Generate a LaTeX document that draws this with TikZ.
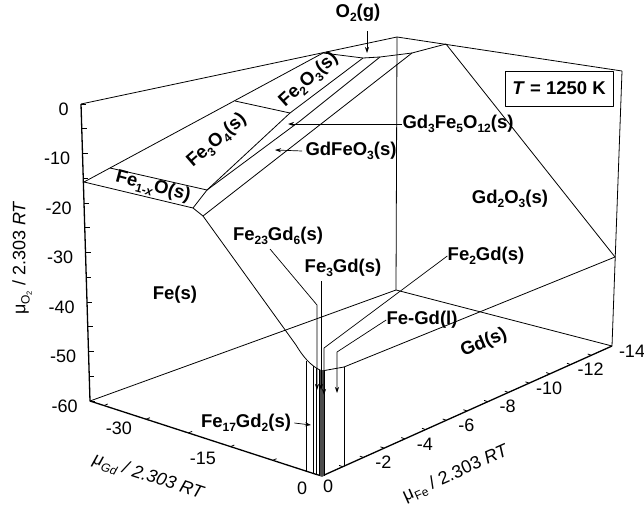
\documentclass[tikz,border=0pt]{standalone}
\usepackage{fontspec}
\setmainfont{Liberation Sans}
\usetikzlibrary{arrows.meta,calc}
\newcommand\sbx[1]{\raisebox{-0.45ex}{\fontsize{12}{12}\selectfont #1}}
\newcommand\ssbx[1]{\raisebox{-0.35ex}{\fontsize{7.5}{7.5}\selectfont #1}}
\begin{document}
\begin{tikzpicture}[x=1pt,y=-1pt, line width=0.8pt, line join=round,
  lab/.style={font=\fontsize{18.5}{19}\selectfont\bfseries, inner sep=0pt},
  ticklab/.style={font=\fontsize{18}{19}\selectfont, inner sep=0pt},
  axlab/.style={font=\fontsize{18}{19}\selectfont, inner sep=0pt},
  arr/.style={-{Stealth[length=6pt,width=4pt]}, line width=0.7pt},
  ax/.style={line width=1.3pt}]
\useasboundingbox (0,0) rectangle (644,506);

% ---------- box corners ----------
\coordinate (TL) at (81,104);
\coordinate (TB) at (397,37);
\coordinate (TR) at (622,71);
\coordinate (L) at (90,401);
\coordinate (B) at (396,290);
\coordinate (R) at (612,346);
\coordinate (Fg) at (315,474);
\coordinate (Ff) at (322,476);

\draw (TL) -- (TB) -- (TR);
\draw (TB) -- (B);
\draw (TR) -- (R);
\draw (L) -- (B) -- (R);
\draw[ax] (TL) -- (L) -- (Fg) -- (Ff) -- (R);

% ---------- ticks ----------
\foreach \k in {0,...,12} \draw ($(TL)!{\k/12}!(L)$) -- ++(5,0);
\foreach \v [count=\k from 0] in {0,-10,-20,-30,-40,-50,-60}
  \node[ticklab, anchor=east] (yl\k) at ($(TL)!{\k/6}!(L)+(-12,5)$) {\v};
\foreach \k in {1,...,5} \draw ($(Fg)!{\k*7.5/40}!(L)$) -- ++(3.7,-1.6);
\node[ticklab] (gl30) at (119,428) {-30};
\node[ticklab] (gl15) at (203,458) {-15};
\node[ticklab] (gl0) at (302,488) {0};
\foreach \k in {1,...,13} \draw ($(Ff)!{\k/14}!(R)$) -- ++(-3.6,-1.3);
\node[ticklab] (fl0) at (328,486) {0};
\foreach \v [count=\k] in {-2,-4,-6,-8,-10,-12,-14}
  \node[ticklab] (fl\k) at ($(Ff)!{\k/7}!(R)+(20,5)$) {\v};

% ---------- surface lines ----------
\coordinate (A1) at (84,182);
\coordinate (A2) at (323,53);
\coordinate (N1) at (110,168);
\coordinate (N2) at (235,101);
\coordinate (Q0) at (207,190);
\coordinate (P1) at (193,208);
\coordinate (P3) at (203,216);
\coordinate (M) at (290,113);
\coordinate (K) at (300,121);
\coordinate (C1) at (363,58);
\coordinate (C2) at (380,57);
\coordinate (C3) at (412,53);
\coordinate (C4) at (446,44);
\coordinate (G1) at (615,257);
\coordinate (G2) at (344,367);
\coordinate (G3) at (322,371);

\draw (A1) -- (A2);
\draw (N1) -- (Q0);
\draw (A1) -- (P1) -- (Q0);
\draw (P1) -- (P3);
\draw (N2) -- (M);
\draw (Q0) -- (M) -- (C1);
\draw (Q0) -- (K) -- (C2);
\draw (P3) -- (C3);
\draw (A2) -- (C1) -- (C2) -- (C3) -- (C4);
\draw (C4) -- (G1);
\draw (G1) -- (G2) .. controls (333,369) and (327,370) .. (G3);
\draw (P3) -- (296,345) .. controls (302,355) and (310,366) .. (G3);

% ---------- vertical lines near origin ----------
\fill[black!70] (319,370) rectangle (324,476);
\draw (306,361) -- (306,471);
\draw (313,366) -- (313,473.5);
\draw (316,368) -- (316,475);
\draw (319,370) -- (319,476);
\draw (324,371) -- (324,476);
\draw (344,367) -- (344,466);

% ---------- labels ----------
\node[lab] (o2) at (358,13) {O\sbx{2}(g)};
\node[lab] (g3) at (458,124) {Gd\sbx{3}Fe\sbx{5}O\sbx{12}(s)};
\node[lab] (gfo) at (351,151) {GdFeO\sbx{3}(s)};
\node[lab, rotate=41] (fe3o4) at (217,141) {Fe\sbx{3}O\sbx{4}(s)};
\node[lab, rotate=42] (fe2o3) at (309,80) {Fe\sbx{2}O\sbx{3}(s)};
\node[lab, rotate=-15] (fexo) at (153,187) {Fe\sbx{1-\textit{x}}O(s)};
\node[lab] (fe) at (175,295) {Fe(s)};
\node[lab] (gd2o3) at (510,199) {Gd\sbx{2}O\sbx{3}(s)};
\node[lab, rotate=23] (gd) at (484,343) {Gd(s)};
\node[lab] (fe23) at (278,236) {Fe\sbx{23}Gd\sbx{6}(s)};
\node[lab] (fe3gd) at (343,268) {Fe\sbx{3}Gd(s)};
\node[lab] (fe2gd) at (486,256) {Fe\sbx{2}Gd(s)};
\node[lab] (fegdl) at (422,320) {Fe-Gd(l)};
\node[lab] (fe17) at (246,423) {Fe\sbx{17}Gd\sbx{2}(s)};
\node[lab, draw, line width=0.7pt, minimum width=108pt, minimum height=35pt] (tbox) at (559,88.5) {\textit{T} = 1250 K};

% ---------- leaders ----------
\coordinate (o2s) at (367,31);
\coordinate (o2t) at (367,53);
\draw[arr] (o2s) -- (o2t);
\coordinate (g3t) at (288,124);
\draw[arr] (g3.west) -- (g3t);
\coordinate (gfot) at (275,150);
\draw[arr] (gfo.west) ++(-3,0) -- (gfot);
\coordinate (f23s) at (270,249);
\coordinate (f23b) at (317,305);
\coordinate (f23t) at (317,390);
\draw[arr] (f23s) -- (f23b) -- (f23t);
\coordinate (f3s) at (321,281);
\coordinate (f3t) at (321,390);
\draw[arr] (f3s) -- (f3t);
\coordinate (f2b) at (324,348);
\coordinate (f2t) at (324,395);
\draw[arr] (fe2gd.west) -- (f2b) -- (f2t);
\coordinate (flb) at (337,352);
\coordinate (flt) at (337,393);
\draw[arr] (fegdl.west) -- (flb) -- (flt);
\coordinate (f17t) at (311,425);
\draw[arr] (fe17.east) ++(3,0) -- (f17t);

% ---------- axis titles ----------
\node[axlab, rotate=90] (ylab) at (22,258) {μ\sbx{O\ssbx{2}} / 2.303 \textit{RT}};
\node[axlab, rotate=-18] (gdlab) at (148,477) {\itshape μ\sbx{Gd} / 2.303 RT};
\node[axlab, rotate=24] (felab) at (456,474) {μ\sbx{Fe} / 2.303 \textit{RT}};
\end{tikzpicture}
\end{document}
